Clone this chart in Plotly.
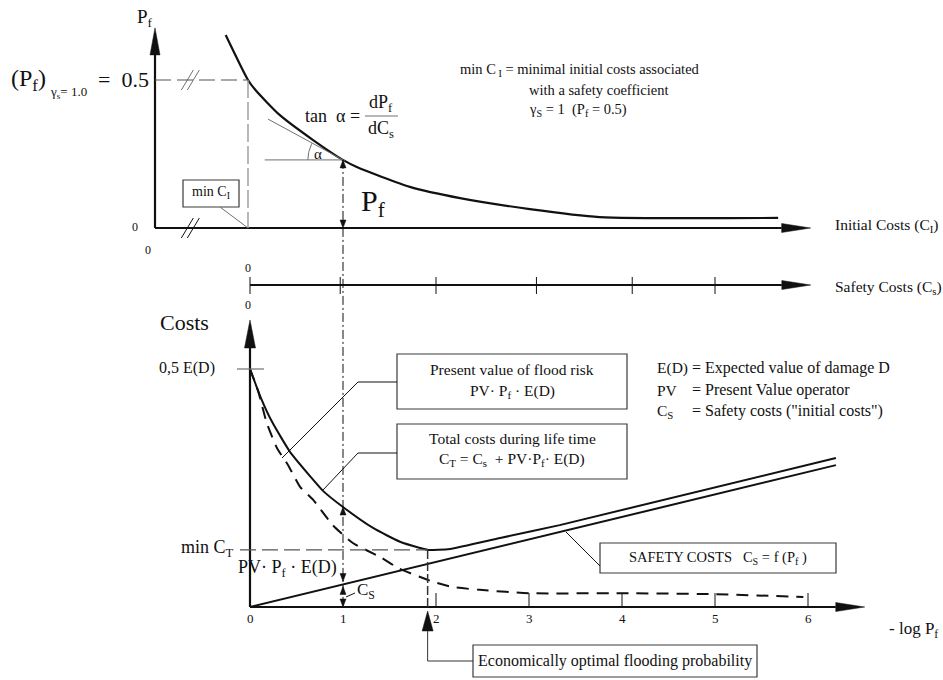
import numpy as np
import plotly.graph_objects as go

W, H = 943, 680
FONT = "Liberation Serif"
INK = "#111111"
GREY = "#707070"

# ---------------- upper panel: failure probability vs initial costs ----------------
ci_curve = [0.76, 1.00, 1.08, 1.34, 1.70, 2.02, 2.17, 2.74, 3.28, 4.03, 4.78, 6.70]
pf_curve = [0.652, 0.500, 0.466, 0.382, 0.297, 0.230, 0.206, 0.139, 0.101, 0.064, 0.037, 0.034]
min_ci = 1.0
pf_ref = 0.5
ci_tan, pf_tan = 2.02, 0.230
ci_tan_from, pf_tan_from = 1.215, 0.368
ci_hor_from = 1.18
ci_axis_end = 7.05
pf_axis_end = 0.676
ci_break = 0.38

# ---------------- safety cost axis ----------------
cs_ticks = [0, 0.97, 2.0, 3.08, 4.11, 5.0]
cs_axis_end = 6.03

# ---------------- lower panel: costs vs -log Pf ----------------
logpf_ticks = [0, 1, 2, 3, 4, 5, 6]
logpf_labels = ["0", "1", "2", "3", "4", "5", "6"]
logpf_axis_end = 6.61
cost_axis_end = 0.603
half_ed = 0.5

total_x = [0.0, 0.118, 0.237, 0.43, 0.645, 0.785, 1.00, 1.323, 1.613, 1.828, 1.914, 2.15, 2.69, 3.33, 6.30]
total_y = [0.500, 0.439, 0.389, 0.326, 0.275, 0.244, 0.210, 0.166, 0.137, 0.124, 0.120, 0.122, 0.145, 0.172, 0.313]

safety_x = [0.0, 6.30]
safety_y = [0.0, 0.298]

risk_x = [0.0, 0.09, 0.18, 0.29, 0.41, 0.54, 0.68, 0.89, 1.11, 1.40, 1.61, 1.83, 1.97,
          2.18, 2.47, 3.01, 3.98, 4.98, 5.95]
risk_y = [0.500, 0.452, 0.387, 0.334, 0.298, 0.252, 0.225, 0.172, 0.134, 0.105, 0.080,
          0.063, 0.053, 0.042, 0.036, 0.029, 0.029, 0.027, 0.021]

opt_logpf = 1.91
min_ct = 0.120

# ---------------- page geometry (pixels) ----------------
UX0, UY0 = 155, 228      # origin of upper panel
LX0, LY0 = 250, 607      # origin of lower panel
UNIT = 93                # px per unit on horizontal axes
PFU = 296                # px per unit of Pf
CU = 476                 # px per unit of E(D)
SAFE_Y = 285             # safety-cost axis row


def fx(px):
    return px / W


def fy(py):
    return 1 - py / H


def up_py(p):
    return UY0 - p * PFU


fig = go.Figure()

fig.add_trace(go.Scatter(x=ci_curve, y=pf_curve, mode="lines", xaxis="x", yaxis="y",
                         line=dict(color=INK, width=2.2, shape="spline", smoothing=0.6)))
fig.add_trace(go.Scatter(x=total_x, y=total_y, mode="lines", xaxis="x2", yaxis="y2",
                         line=dict(color=INK, width=2, shape="spline", smoothing=0.5)))
fig.add_trace(go.Scatter(x=safety_x, y=safety_y, mode="lines", xaxis="x2", yaxis="y2",
                         line=dict(color=INK, width=2)))
fig.add_trace(go.Scatter(x=risk_x, y=risk_y, mode="lines", xaxis="x2", yaxis="y2",
                         line=dict(color=INK, width=2, dash="12px,8px", shape="spline", smoothing=0.6)))

# angle arc between tangent and horizontal
ang = np.arctan2((pf_tan_from - pf_tan) * PFU, (ci_tan - ci_tan_from) * UNIT)
th = np.linspace(np.pi, np.pi - ang, 20)
arc_r = 35
fig.add_trace(go.Scatter(x=ci_tan + arc_r * np.cos(th) / UNIT, y=pf_tan + arc_r * np.sin(th) / PFU,
                         mode="lines", xaxis="x", yaxis="y", line=dict(color=GREY, width=1)))

shapes = []
ann = []


def line(x0, y0, x1, y1, xref="paper", yref="paper", color=INK, width=1, dash=None):
    d = dict(type="line", x0=x0, y0=y0, x1=x1, y1=y1, xref=xref, yref=yref,
             line=dict(color=color, width=width))
    if dash:
        d["line"]["dash"] = dash
    shapes.append(d)


def pline(pts, color=INK, width=1):
    for (a, b), (c, d) in zip(pts[:-1], pts[1:]):
        line(fx(a), fy(b), fx(c), fy(d), color=color, width=width)


def head(xa, ya, direction, length, half, xref, yref, color=INK):
    paths = {
        "up": f"M 0,0 L {-half},{-length} L {half},{-length} Z",
        "down": f"M 0,0 L {-half},{length} L {half},{length} Z",
        "right": f"M 0,0 L {-length},{half} L {-length},{-half} Z",
    }
    shapes.append(dict(type="path", path=paths[direction], xref=xref, yref=yref,
                       xsizemode="pixel", ysizemode="pixel", xanchor=xa, yanchor=ya,
                       fillcolor=color, line=dict(color=color, width=0.5)))


def text(s, x, y, size, xanchor="center", yanchor="middle", color=INK):
    ann.append(dict(text=s, x=fx(x), y=fy(y), xref="paper", yref="paper", showarrow=False,
                    xanchor=xanchor, yanchor=yanchor, font=dict(family=FONT, size=size, color=color)))


def box(x0, y0, x1, y1):
    shapes.append(dict(type="rect", x0=fx(x0), y0=fy(y0), x1=fx(x1), y1=fy(y1),
                       xref="paper", yref="paper", line=dict(color="#3a3a3a", width=1.2)))


# ---- upper panel axes ----
ALEN, AHW = 27, 5
line(0, 0, 0, pf_axis_end - ALEN / PFU, "x", "y", width=2.2)
head(0, pf_axis_end, "up", ALEN, AHW, "x", "y")
line(0, 0, ci_axis_end - 29 / UNIT, 0, "x", "y", width=2.2)
head(ci_axis_end, 0, "right", 29, 4.5, "x", "y")

for yv, col in ((pf_ref, GREY), (0, INK)):
    shapes.append(dict(type="path", path="M -9,-10 L 3,10 M -3,-10 L 9,10", xref="x", yref="y",
                       xsizemode="pixel", ysizemode="pixel", xanchor=ci_break, yanchor=yv,
                       line=dict(color=col, width=1)))

line(0, pf_ref, min_ci, pf_ref, "x", "y", color="#555555", width=1.2, dash="16px,6px")
line(min_ci, pf_ref, min_ci, 0, "x", "y", color="#9a9a9a", width=1.4, dash="18px,4px")

# tangent and horizontal reference
line(ci_tan_from, pf_tan_from, ci_tan + 0.02, pf_tan - 0.003, "x", "y", color=GREY, width=1)
line(ci_hor_from, pf_tan, ci_tan, pf_tan, "x", "y", color=GREY, width=1)

# vertical reference at -log Pf = 1 running through both panels
top_py = up_py(pf_tan)
line(1, fy(top_py), 1, fy(LY0), "x2", "paper", width=1, dash="9px,3px,2px,3px")
head(1, fy(top_py), "up", 8, 3, "x2", "paper")
head(1, fy(UY0), "down", 8, 3, "x2", "paper")

tot_at1 = float(np.interp(1, total_x, total_y))
saf_at1 = float(np.interp(1, safety_x, safety_y))
head(1, tot_at1, "up", 8, 3, "x2", "y2")
head(1, saf_at1 + 3 / CU, "down", 8, 3, "x2", "y2")
head(1, saf_at1 - 2 / CU, "up", 8, 3, "x2", "y2")
head(1, 0, "down", 8, 3, "x2", "y2")

# min C_I box
box(183, 180, 239, 207)
text("min C<sub>I</sub>", 211, 192, 14)
line(fx(220), fy(207), fx(UX0 + min_ci * UNIT), fy(UY0), color=GREY, width=1)

# upper labels
text("P<sub>f</sub>", 145, 18, 19)
text("(P<sub>f</sub>)", 9, 80, 24, xanchor="left")
text("γ<sub>s</sub>= 1.0", 48, 93, 13, xanchor="left")
text("=  0.5", 96, 79, 22, xanchor="left")
text("0", 135, 227, 12)
text("0", 148, 250, 12)
text("tan  α =", 362, 116, 18, xanchor="right")
text("dP<sub>f</sub>", 381, 103, 18)
text("dC<sub>s</sub>", 381, 129, 18)
line(fx(365), fy(116), fx(398), fy(116), color=GREY, width=1)
text("α", 318, 154, 15)
text("P<sub>f</sub>", 373, 203, 30)

text("min C<sub> I</sub> = minimal initial costs associated", 458, 70, 14.5, xanchor="left")
text("with a safety coefficient", 527, 90, 14.5, xanchor="left")
text("γ<sub>S</sub> = 1  (P<sub>f</sub> = 0.5)", 527, 110, 14.5, xanchor="left")
text("Initial Costs (C<sub>I</sub>)", 833, 226, 15.5, xanchor="left")

# ---- safety cost axis ----
line(0, fy(SAFE_Y), cs_axis_end - 29 / UNIT, fy(SAFE_Y), "x2", "paper", width=1.8)
head(cs_axis_end, fy(SAFE_Y), "right", 29, 4.5, "x2", "paper")
for t in cs_ticks:
    line(t, fy(SAFE_Y - 8), t, fy(SAFE_Y + 9), "x2", "paper", width=1)
text("0", 248, 268, 12)
text("0", 248, 305, 12)
text("Safety Costs (C<sub>s</sub>)", 833, 287, 15.5, xanchor="left")

# ---- lower panel axes ----
line(0, 0, 0, cost_axis_end - 28 / CU, "x2", "y2", width=2.2)
head(0, cost_axis_end, "up", 28, 5.5, "x2", "y2")
line(0, 0, logpf_axis_end - 29 / UNIT, 0, "x2", "y2", width=2.2)
head(logpf_axis_end, 0, "right", 29, 4.5, "x2", "y2")
for t in logpf_ticks[2:]:
    shapes.append(dict(type="line", xref="x2", yref="y2", x0=t, x1=t, ysizemode="pixel",
                       yanchor=0, y0=0, y1=14, line=dict(color=INK, width=1)))
for t, lab in zip(logpf_ticks, logpf_labels):
    ann.append(dict(text=lab, x=t, y=fy(628), xref="x2", yref="paper", showarrow=False,
                    font=dict(family=FONT, size=13, color=INK)))
text("- log P<sub>f</sub>", 887, 630, 17, xanchor="left")

# 0.5 E(D) tick
shapes.append(dict(type="line", xref="x2", yref="y2", xsizemode="pixel", xanchor=0, x0=-13, x1=14,
                   y0=half_ed, y1=half_ed, line=dict(color=GREY, width=1.2)))
text("Costs", 184, 322, 22)
text("0,5 E(D)", 187, 368, 16)

# optimum markers
shapes.append(dict(type="line", xref="x2", yref="y2", x0=-10 / UNIT, x1=opt_logpf, y0=min_ct, y1=min_ct,
                   line=dict(color="#555555", width=1.3, dash="16px,6px")))
line(opt_logpf, min_ct, opt_logpf, 0, "x2", "y2", color="#333333", width=1.5, dash="9px,3px")
head(opt_logpf, fy(611), "up", 20, 5.5, "x2", "paper")
opt_px = LX0 + opt_logpf * UNIT
pline([(opt_px, 631), (opt_px, 661), (473, 661)], color="#333333", width=1)
box(473, 645, 757, 677)
text("Economically optimal flooding probability", 615, 661, 16)

text("min C<sub>T</sub>", 236, 548, 18, xanchor="right")
text("PV· P<sub>f</sub> · E(D)", 236, 568, 18, xanchor="left")
text("C<sub>S</sub>", 355, 591, 17, xanchor="left")
pline([(346, 597), (355, 593)], width=1)

# explanation boxes
box(397, 354, 627, 409)
text("Present value of flood risk", 512, 369, 15.5)
text("PV· P<sub>f</sub> · E(D)", 512, 392, 15.5)
pline([(397, 382), (358, 382), (282, 458)], width=1)

box(397, 424, 627, 479)
text("Total costs during life time", 512, 438, 15.5)
text("C<sub>T</sub> = C<sub>s</sub>  + PV·P<sub>f</sub>· E(D)", 512, 459, 15.5)
pline([(397, 453), (358, 453), (323, 490)], width=1)

box(600, 543, 836, 573)
text("SAFETY COSTS   C<sub>S</sub> = f (P<sub>f</sub> )", 718, 558, 14.5)
pline([(600, 566), (566, 532)], width=1)

# legend of symbols
for lab, desc, yy in (("E(D)", "= Expected value of damage D", 368),
                      ("PV", "= Present Value operator", 390),
                      ("C<sub>S</sub>", "= Safety costs (\"initial costs\")", 411)):
    text(lab, 655, yy, 15.5, xanchor="left")
    text(desc, 690, yy, 16, xanchor="left")

hidden = dict(visible=False, fixedrange=True)
fig.update_layout(
    width=W, height=H, margin=dict(l=0, r=0, t=0, b=0),
    paper_bgcolor="white", plot_bgcolor="white", showlegend=False, hovermode=False,
    xaxis=dict(range=[-UX0 / UNIT, (W - UX0) / UNIT], domain=[0, 1], anchor="y", **hidden),
    yaxis=dict(range=[-(H - UY0) / PFU, UY0 / PFU], domain=[0, 1], anchor="x", **hidden),
    xaxis2=dict(range=[-LX0 / UNIT, (W - LX0) / UNIT], domain=[0, 1], overlaying="x", anchor="y2", **hidden),
    yaxis2=dict(range=[-(H - LY0) / CU, LY0 / CU], domain=[0, 1], overlaying="y", anchor="x2", **hidden),
    shapes=shapes, annotations=ann,
)

fig.write_html("out.html")
